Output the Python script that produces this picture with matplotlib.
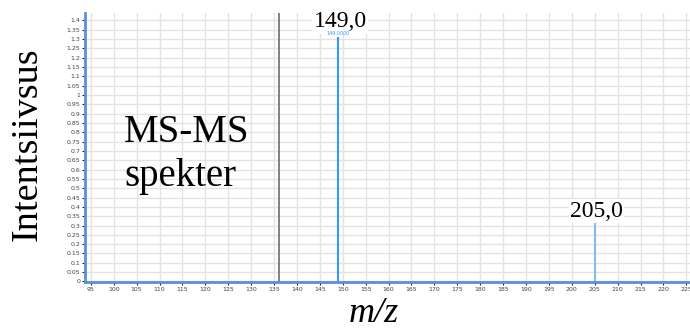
import numpy as np
import matplotlib.pyplot as plt
from matplotlib.ticker import MultipleLocator, FuncFormatter

# data
peak_mz = [149.0, 205.0]
peak_int = [1.31, 0.32]
peak_colors = ['#3399ff', '#88bbee']
peak_labels = ['149,0', '205,0']
marker_mz = 136.1

fig = plt.figure(figsize=(6.9, 3.31), dpi=100)
ax = fig.add_axes([0.123, 0.148, 0.877, 0.813])

ax.set_xlim(93.7, 225.8)
ax.set_ylim(-0.003, 1.44)

ax.xaxis.set_major_locator(MultipleLocator(5))
ax.yaxis.set_major_locator(MultipleLocator(0.05))
ax.yaxis.set_major_formatter(FuncFormatter(lambda v, p: ('%.2f' % v).rstrip('0').rstrip('.')))
ax.tick_params(axis='both', labelsize=4.5, labelcolor='#444444', length=2, width=0.8,
               color='#222222', pad=1.5)
ax.grid(True, color='#e3e3e3', lw=1.0)
ax.set_axisbelow(True)

for s in ['top', 'right']:
    ax.spines[s].set_visible(False)
for s in ['left', 'bottom']:
    ax.spines[s].set_color('#5b8fd9')
    ax.spines[s].set_linewidth(2)

# marker line
ax.axvline(marker_mz, color='#777777', lw=1.3, zorder=2)

# peaks
for mz, h, c in zip(peak_mz, peak_int, peak_colors):
    ax.vlines(mz, 0, h, color=c, lw=1.5, zorder=3)

# small peak annotation sits on top of the big label's white box
ax.text(peak_mz[0], peak_int[0] + 0.008, '%.4f' % peak_mz[0], color='#3399ff', fontsize=3.5,
        ha='center', va='bottom', zorder=6)

serif = ['Liberation Serif', 'DejaVu Serif']
ax.text(peak_mz[0] + 0.4, peak_int[0] + 0.025, peak_labels[0], fontsize=17, family=serif,
        ha='center', va='bottom', zorder=5,
        bbox=dict(facecolor='white', edgecolor='none', pad=1))
ax.text(peak_mz[1] + 0.4, peak_int[1] + 0.0, peak_labels[1], fontsize=17, family=serif,
        ha='center', va='bottom', zorder=5,
        bbox=dict(facecolor='white', edgecolor='none', pad=1))

ax.text(102.3, 0.9, 'MS-MS\nspekter', fontsize=28, family=serif, ha='left', va='top',
        linespacing=1.27, zorder=5)

fig.text(0.04, 0.565, 'Intentsiivsus', rotation=90, fontsize=27.5, family=serif,
         ha='center', va='center')
fig.text(0.541, 0.052, 'm/z', fontsize=26, family=serif, style='italic',
         ha='center', va='center')

fig.savefig('out.png', dpi=100)
